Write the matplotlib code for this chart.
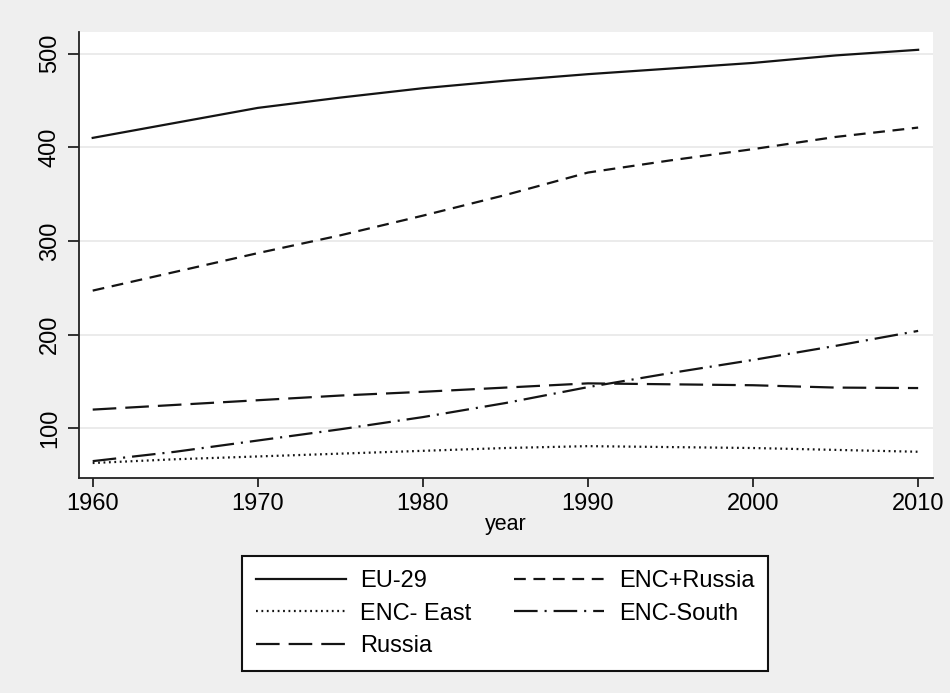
import numpy as np
import matplotlib.pyplot as plt

plt.rcParams['font.family'] = ['Liberation Sans', 'DejaVu Sans']
plt.rcParams['lines.scale_dashes'] = False

year = [1960, 1965, 1970, 1975, 1980, 1985, 1990, 1995, 2000, 2005, 2010]
eu29 = [410, 426, 442, 453, 463, 471, 478, 484, 490, 498, 504]
enc_russia = [247, 267, 287, 306, 327, 349, 373, 386, 398, 411, 421]
enc_east = [63, 67, 70, 73, 76, 79, 81, 80, 79, 77, 75]
enc_south = [65, 75, 87, 99, 112, 127, 144, 159, 173, 188, 204]
russia = [120, 125, 130, 135, 139, 143.5, 148, 147, 146, 143.5, 143]

xticks = [1960, 1970, 1980, 1990, 2000, 2010]
yticks = [100, 200, 300, 400, 500]

fig = plt.figure(figsize=(9.5, 6.93), dpi=100, facecolor='#efefef')
ax = fig.add_axes([79/950, 1-478/693, (933-79)/950, (478-32)/693])
ax.set_facecolor('white')

lc = '#141414'
lw = 1.6
h_eu, = ax.plot(year, eu29, color=lc, lw=lw, label='EU-29')
h_er, = ax.plot(year, enc_russia, color=lc, lw=lw, dashes=(8.5, 5.5), label='ENC+Russia')
h_ee, = ax.plot(year, enc_east, color=lc, lw=lw, dashes=(1.3, 2.6), label='ENC- East')
h_es, = ax.plot(year, enc_south, color=lc, lw=lw, dashes=(17, 5, 1.5, 5), label='ENC-South')
h_ru, = ax.plot(year, russia, color=lc, lw=lw, dashes=(17, 6.5), label='Russia')

ax.set_xlim(1959.17, 2010.9)
ax.set_ylim(47, 523)
ax.set_xticks(xticks)
ax.set_yticks(yticks)
ax.grid(axis='y', color='#e8e8e8', lw=1.2)
ax.set_axisbelow(True)

for s in ['top', 'right']:
    ax.spines[s].set_visible(False)
for s in ['left', 'bottom']:
    ax.spines[s].set_linewidth(1.3)
    ax.spines[s].set_color('#222222')

ax.tick_params(axis='both', width=1.3, color='#222222', labelsize=17)
ax.tick_params(axis='x', length=6.5, pad=4.5)
ax.tick_params(axis='y', length=8, pad=5, labelrotation=90)
for t in ax.get_yticklabels():
    t.set_va('center')

ax.set_xlabel('year', fontsize=15.5, labelpad=-1)

# row-wise order across two columns
handles = [h_eu, h_ee, h_ru, h_er, h_es]
leg = fig.legend(handles=handles, labels=[h.get_label() for h in handles],
                 loc='upper center', bbox_to_anchor=(505/950, 1-556/693),
                 ncol=2, fontsize=17, frameon=True, fancybox=False,
                 edgecolor='#111111', facecolor='white', framealpha=1,
                 handlelength=3.8, handletextpad=0.63, columnspacing=1.8,
                 labelspacing=0.44, borderpad=0.6, borderaxespad=0)
leg.get_frame().set_linewidth(1.5)

fig.savefig('out.png', dpi=100, facecolor=fig.get_facecolor())
